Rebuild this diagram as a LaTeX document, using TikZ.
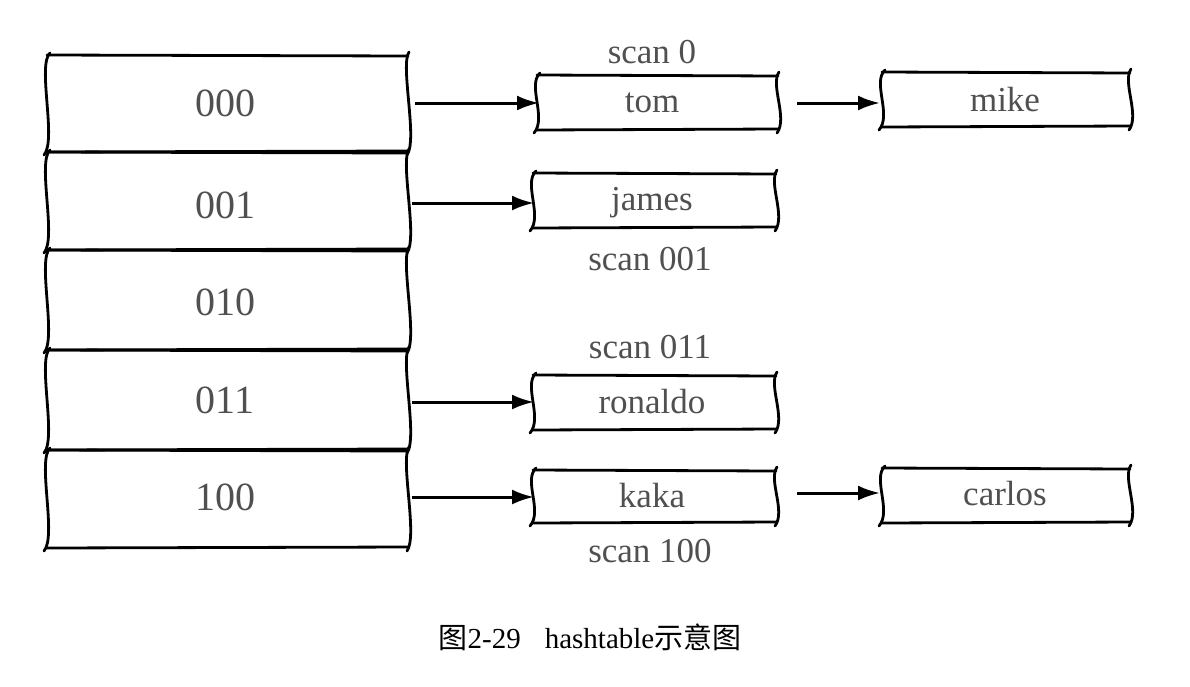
\documentclass[tikz,border=0pt]{standalone}
\usepackage{fontspec}
\setmainfont{Liberation Serif}
\newfontfamily\cjk{Noto Sans CJK SC}
\usetikzlibrary{calc,arrows.meta}
\definecolor{txt}{RGB}{80,80,80}
\newcommand\skbox[5]{%
  \draw[sk] (#2,#3) -- (#4,#3+1);
  \draw[sk] (#2,#5) -- (#4,#5-1);
  \draw[sk] (#2+3,#3-2) .. controls (#2-10,#3+10) and (#2+10,#5-12) .. (#2-3,#5+3);
  \draw[sk] (#4+1,#3-3) .. controls (#4-8,#3+10) and (#4+10,#5-12) .. (#4-1,#5+3);
}
\begin{document}
\begin{tikzpicture}[x=1pt,y=-1pt,
  cell/.style={inner sep=0,text=txt},
  big/.style={cell,font=\fontsize{40}{42}\selectfont},
  small/.style={cell,font=\fontsize{35}{38}\selectfont},
  lbl/.style={text=txt,font=\fontsize{35}{38}\selectfont},
  arr/.style={line width=3pt,-{Latex[length=22pt,width=15pt]}},
  sk/.style={line width=2.8pt,line cap=round}]
\useasboundingbox (0,0) rectangle (1190,686);
\fill[white] (0,0) rectangle (1190,686);
% hash table
\skbox{h0}{47}{55}{408}{152}
\skbox{h1}{47}{152}{408}{250}
\skbox{h2}{47}{250}{408}{350}
\skbox{h3}{47}{350}{408}{450}
\skbox{h4}{47}{450}{408}{548}
\node[big] (h0) at (225,103) {000};
\node[big] (h1) at (225,205) {001};
\node[big] (h2) at (225,302) {010};
\node[big] (h3) at (225,400) {011};
\node[big] (h4) at (225,497) {100};
% second column
\skbox{}{537}{75}{778}{130}
\skbox{}{533}{173}{776}{228}
\skbox{}{533}{375}{776}{430}
\skbox{}{533}{470}{776}{523}
\skbox{}{882}{72}{1130}{127}
\skbox{}{882}{468}{1130}{523}
\node[small] (tom) at (652,103) {tom};
\node[small] (james) at (652,203) {james};
\node[small] (ron) at (652,402) {ronaldo};
\node[small] (kaka) at (652,496) {kaka};
\node[small] (mike) at (1005,100) {mike};
\node[small] (carlos) at (1005,494) {carlos};
\coordinate (a0) at (415,103); \coordinate (b0) at (539,103);
\coordinate (a1) at (412,203); \coordinate (b1) at (534,203);
\coordinate (a3) at (412,402); \coordinate (b3) at (534,402);
\coordinate (a4) at (412,497); \coordinate (b4) at (534,497);
\coordinate (c0) at (797,103); \coordinate (d0) at (880,103);
\coordinate (c4) at (797,493); \coordinate (d4) at (880,493);
\draw[arr] (a0) -- (b0);
\draw[arr] (a1) -- (b1);
\draw[arr] (a3) -- (b3);
\draw[arr] (a4) -- (b4);
\draw[arr] (c0) -- (d0);
\draw[arr] (c4) -- (d4);
\node[lbl] (s0) at (652,52) {scan 0};
\node[lbl] (s1) at (650,259) {scan 001};
\node[lbl] (s3) at (650,347) {scan 011};
\node[lbl] (s4) at (650,551) {scan 100};
\node[font=\fontsize{29}{31}\selectfont] (cap) at (590,637) {{\cjk 图}2-29\hspace{24pt}hashtable{\cjk 示意图}};
\end{tikzpicture}
\end{document}
